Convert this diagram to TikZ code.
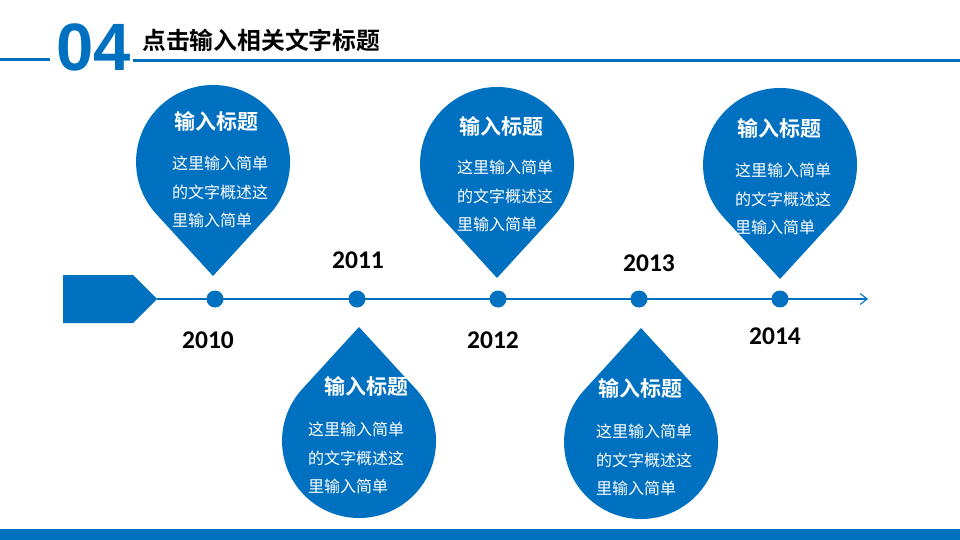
\documentclass[tikz,border=0pt]{standalone}
\usepackage{fontspec}
\setmainfont{Carlito}
\newfontfamily\cjk[BoldFont={Noto Sans CJK SC Bold}]{Noto Sans CJK SC}
\newfontfamily\numfont{Liberation Sans}
\usetikzlibrary{arrows.meta}
\definecolor{mainblue}{RGB}{0,112,192}
\tikzset{
  drop/.style={fill=mainblue,draw=none},
  dtitle/.style={text=white,font=\cjk\bfseries\fontsize{21}{24}\selectfont,inner sep=0pt},
  dbody/.style={text=white,font=\cjk\fontsize{16}{28.5}\selectfont,align=left,anchor=west,inner sep=0pt},
  year/.style={font=\bfseries\fontsize{25.5}{27}\selectfont,text=black,inner sep=0pt},
  dot/.style={circle,fill=mainblue,minimum size=17pt,inner sep=0pt},
  tline/.style={draw=mainblue,line width=1.3pt}
}
\begin{document}
\begin{tikzpicture}[x=1pt,y=-1pt]
\useasboundingbox (0,0) rectangle (960,540);
% header
\fill[mainblue] (0,58.5) rectangle (50,61.5);
\fill[mainblue] (133,59.5) rectangle (960,62.5);
\node[text=mainblue,font=\numfont\bfseries\fontsize{67}{70}\selectfont,inner sep=0pt] (num) at (94,47) {04};
\node[anchor=west,font=\cjk\bfseries\fontsize{23.8}{26}\selectfont,inner sep=0pt] (title) at (142,40) {点击输入相关文字标题};
% bottom bar
\fill[mainblue] (0,529) rectangle (960,540);
% timeline
\fill[mainblue] (63,275) -- (133,275) -- (157,299) -- (133,323) -- (63,323) -- cycle;
\coordinate (start) at (157,299);
\coordinate (stop) at (868,299);
\draw[tline,-{Straight Barb[length=7pt,width=11pt,line width=1.1pt]}] (start) -- (stop);
\node[dot] (d1) at (215,299) {};
\node[dot] (d2) at (357,299) {};
\node[dot] (d3) at (498,299) {};
\node[dot] (d4) at (639,299) {};
\node[dot] (d5) at (780,299) {};
% years
\node[year] (y1) at (208,340) {2010};
\node[year] (y2) at (358,260) {2011};
\node[year] (y3) at (493,340) {2012};
\node[year] (y4) at (649,263) {2013};
\node[year] (y5) at (775,336) {2014};
% upper drops (tip down)
\fill[drop] (213,276) -- (269.8,214) arc[start angle=42.5,end angle=-222.5,radius=77] -- cycle;
\fill[drop] (497,278) -- (553.8,216) arc[start angle=42.5,end angle=-222.5,radius=77] -- cycle;
\fill[drop] (780,279) -- (836.8,217) arc[start angle=42.5,end angle=-222.5,radius=77] -- cycle;
% lower drops (tip up)
\fill[drop] (359,327) -- (415.8,389) arc[start angle=-42.5,end angle=222.5,radius=77] -- cycle;
\fill[drop] (641,328) -- (697.8,390) arc[start angle=-42.5,end angle=222.5,radius=77] -- cycle;
% drop texts
\node[dtitle] (t1) at (216,121) {输入标题};
\node[dbody] (b1) at (172,192) {这里输入简单\\的文字概述这\\里输入简单};
\node[dtitle] (t2) at (501,126) {输入标题};
\node[dbody] (b2) at (457,196) {这里输入简单\\的文字概述这\\里输入简单};
\node[dtitle] (t3) at (779,128) {输入标题};
\node[dbody] (b3) at (735,199) {这里输入简单\\的文字概述这\\里输入简单};
\node[dtitle] (t4) at (366,386) {输入标题};
\node[dbody] (b4) at (308,458) {这里输入简单\\的文字概述这\\里输入简单};
\node[dtitle] (t5) at (640,388) {输入标题};
\node[dbody] (b5) at (596,460) {这里输入简单\\的文字概述这\\里输入简单};
\end{tikzpicture}
\end{document}
